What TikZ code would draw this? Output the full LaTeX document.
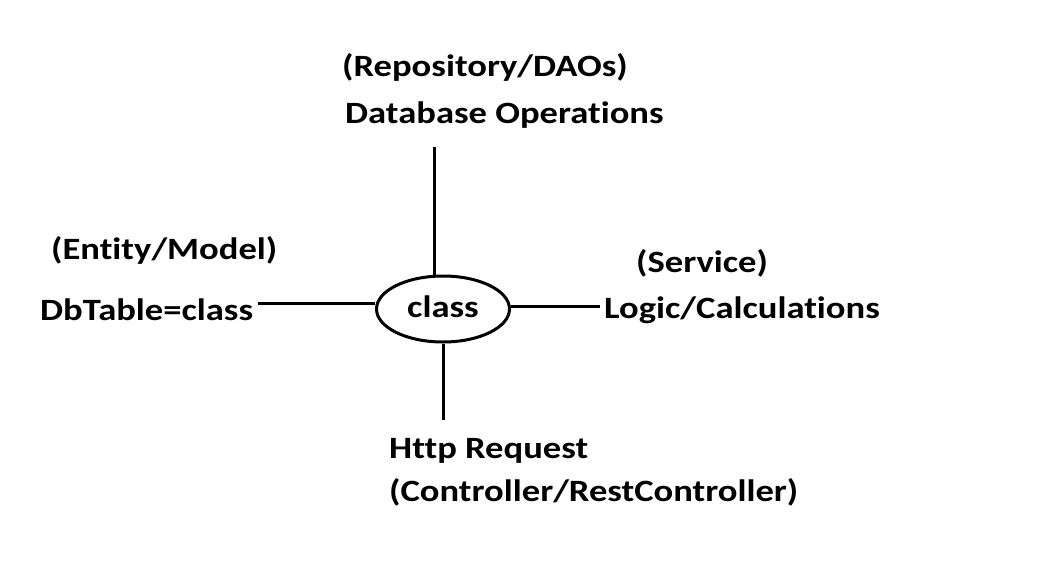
\documentclass[tikz,border=0pt]{standalone}
\usepackage{graphicx}
\usepackage{fontspec}
\setmainfont[Ligatures=NoCommon]{Carlito}
\usetikzlibrary{shapes.geometric}
\newcommand\widetxt[1]{\scalebox{1.18}[1]{#1}}
\tikzset{
  lbl/.style={anchor=base west, inner sep=0pt, font=\fontsize{31}{37}\selectfont\bfseries},
  conn/.style={line width=3pt, black},
  hub/.style={ellipse, draw, line width=3pt, minimum width=133pt, minimum height=66pt, inner sep=0pt, font=\fontsize{31}{37}\selectfont\bfseries}
}
\begin{document}
\begin{tikzpicture}[x=1pt,y=-1pt]
\useasboundingbox[fill=white] (0,0) rectangle (1039,568);
\node[hub] (c) at (443,309) {\raisebox{4pt}{\widetxt{class}}};
\node[lbl] (repo) at (342,76) {\widetxt{(Repository/DAOs)}};
\node[lbl] (db) at (345,123) {\widetxt{Database Operations}};
\node[lbl] (ent) at (51,259) {\widetxt{(Entity/Model)}};
\node[lbl] (tab) at (40,320) {\widetxt{DbTable=class}};
\node[lbl] (svc) at (636,272) {\widetxt{(Service)}};
\node[lbl] (logic) at (604,318) {\widetxt{Logic/Calculations}};
\node[lbl] (http) at (389,458) {\widetxt{Http Request}};
\node[lbl] (ctl) at (389,501) {\widetxt{(Controller/RestController)}};
\coordinate (tend) at (434,147);
\coordinate (lend) at (258,303);
\coordinate (rend) at (600,306);
\coordinate (bend) at (443,420);
\draw[conn] (tend) -- (tend |- c.north);
\draw[conn] (lend) -- (lend -| c.west);
\draw[conn] (c.east |- rend) -- (rend);
\draw[conn] (c.south) -- (bend);
\end{tikzpicture}
\end{document}
